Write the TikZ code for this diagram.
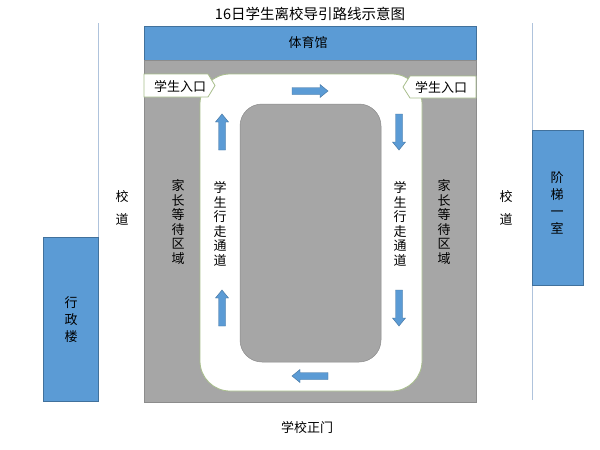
\documentclass[tikz,border=0pt]{standalone}
\usepackage{fontspec}
\setmainfont{Noto Sans CJK SC}

\definecolor{hallblue}{RGB}{91,155,213}
\definecolor{halledge}{RGB}{65,113,156}
\definecolor{areagray}{RGB}{166,166,166}
\definecolor{areaedge}{RGB}{140,140,140}
\definecolor{roadedge}{RGB}{168,190,140}
\definecolor{laneline}{RGB}{175,195,220}

\begin{document}
\begin{tikzpicture}[x=1pt, y=-1pt,
    block/.style={fill=hallblue, draw=halledge, line width=0.6pt},
    lbl/.style={font=\fontsize{13}{14.5}\selectfont, text=black, inner sep=0pt, align=center},
    flowarrow/.pic={\draw[fill=hallblue, draw=halledge, line width=0.4pt]
      (-18,-3.5) -- (10,-3.5) -- (10,-6.5) -- (18,0) -- (10,6.5) -- (10,3.5) -- (-18,3.5) -- cycle;}
  ]
  \useasboundingbox (0,0) rectangle (600,450);
  % School roads
  \draw[laneline, line width=0.8pt] (98,23) -- (98,237);
  \draw[laneline, line width=0.8pt] (532,23) -- (532,400);
  % Buildings
  \draw[block] (43,237) rectangle (98,401);
  \draw[block] (532,130) rectangle (583,285);
  \draw[block] (144,26) rectangle (476,60);
  % Waiting area and walkway
  \draw[fill=areagray, draw=areaedge, line width=0.5pt] (144,60) rectangle (476,402);
  \draw[fill=white, draw=roadedge, line width=0.8pt, rounded corners=30pt] (200,74) rectangle (422,391);
  \draw[fill=areagray, draw=areaedge, line width=0.5pt, rounded corners=22pt] (240,104) rectangle (381,362);
  % Entrances
  \draw[fill=white, draw=roadedge, line width=0.8pt] (144,74) -- (208,74) -- (215,85.5) -- (208,97) -- (144,97) -- cycle;
  \draw[fill=white, draw=roadedge, line width=0.8pt] (476,76) -- (410,76) -- (403,87) -- (410,98) -- (476,98) -- cycle;
  % Walking direction
  \pic at (310,91) {flowarrow};
  \pic[rotate=-90] at (399,132) {flowarrow};
  \pic[rotate=-90] at (399,308) {flowarrow};
  \pic[rotate=180] at (310,376) {flowarrow};
  \pic[rotate=90] at (222,308) {flowarrow};
  \pic[rotate=90] at (222,132) {flowarrow};
  % Labels
  \node[lbl, font=\fontsize{14.5}{16}\selectfont] (title) at (310,14) {16日学生离校导引路线示意图};
  \node[lbl] (gym) at (308,43) {体育馆};
  \node[lbl] (inleft) at (180,86) {学生入口};
  \node[lbl] (inright) at (441,87) {学生入口};
  \node[lbl] (waitleft) at (178,222) {家\\长\\等\\待\\区\\域};
  \node[lbl] (waitright) at (444,222) {家\\长\\等\\待\\区\\域};
  \node[lbl] (walkleft) at (220,224) {学\\生\\行\\走\\通\\道};
  \node[lbl] (walkright) at (400,224) {学\\生\\行\\走\\通\\道};
  \node[lbl, font=\fontsize{13}{23}\selectfont] (roadleft) at (122,208) {校\\道};
  \node[lbl, font=\fontsize{13}{23}\selectfont] (roadright) at (506,208) {校\\道};
  \node[lbl, font=\fontsize{13}{17}\selectfont] (admin) at (71,320) {行\\政\\楼};
  \node[lbl, font=\fontsize{13}{17}\selectfont] (lecture) at (557,203) {阶\\梯\\一\\室};
  \node[lbl] (gate) at (307,428) {学校正门};
\end{tikzpicture}
\end{document}
